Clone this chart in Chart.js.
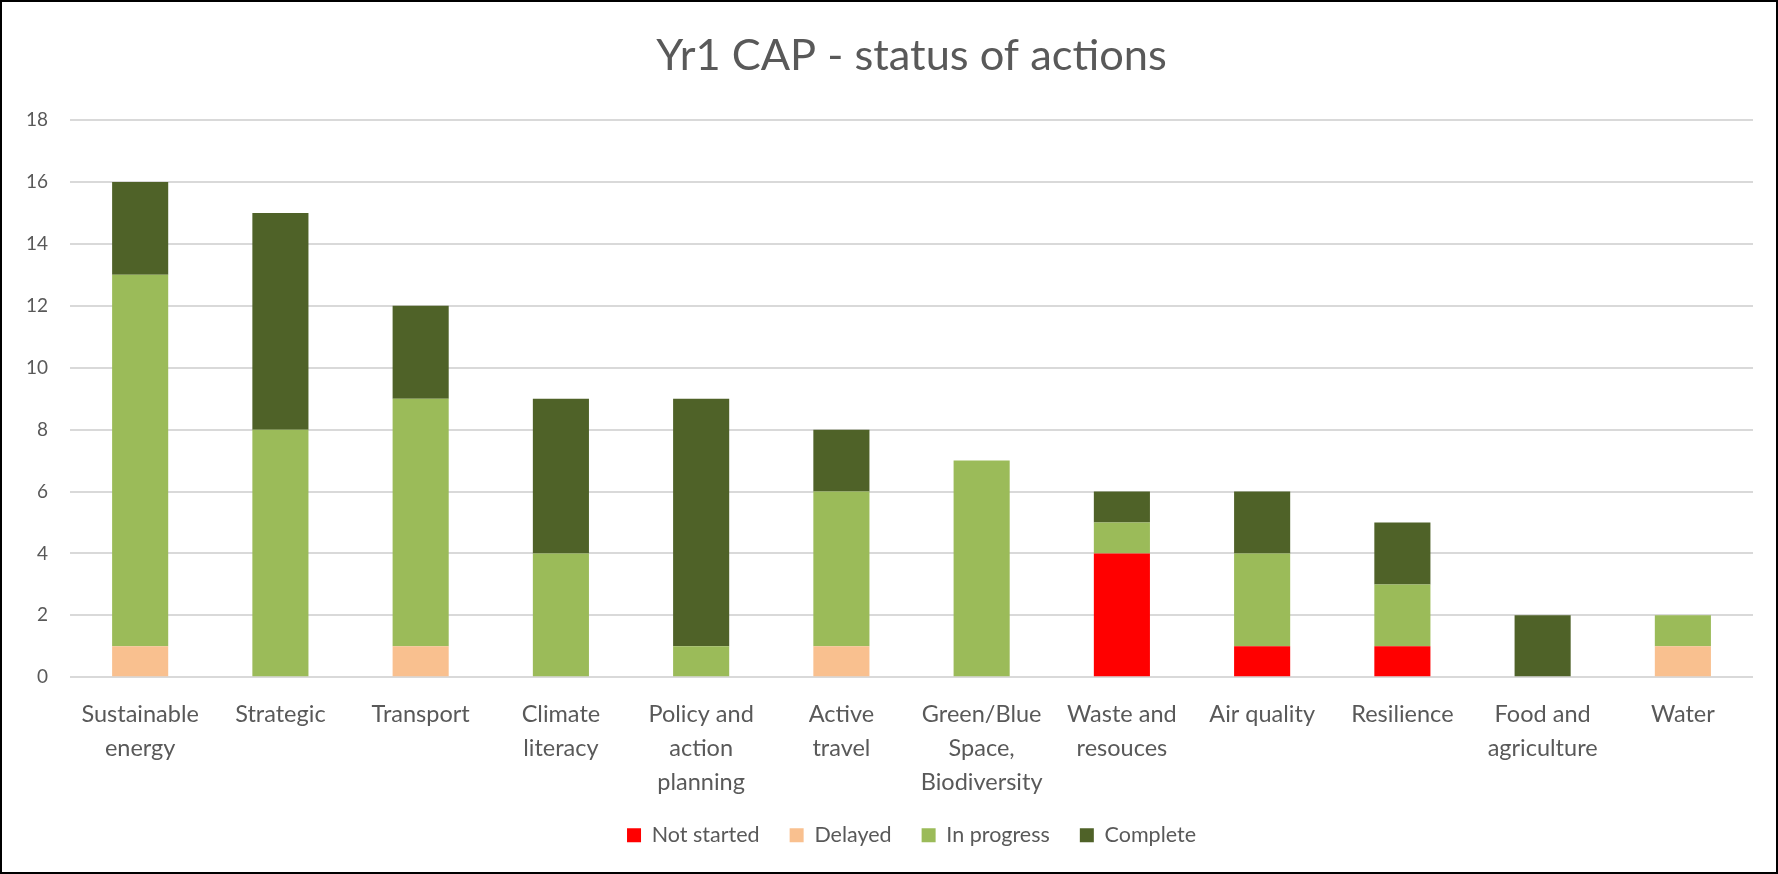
<!DOCTYPE html>
<html>
<head>
    <meta charset="UTF-8">
    <title>Yr1 CAP - status of actions</title>
    <script src="https://cdn.jsdelivr.net/npm/chart.js@4.4.0/dist/chart.umd.min.js"></script>
    <style>
        html, body { margin: 0; padding: 0; background: #fff; }
        #wrap { width: 1778px; height: 874px; box-sizing: border-box; border: 2px solid #000; position: relative; }
    </style>
</head>
<body>
    <div id="wrap"><canvas id="capChart"></canvas></div>

    <script>
        // categories (multi-line labels as in the original)
        const categories = [
            ['Sustainable', 'energy'], 'Strategic', 'Transport', ['Climate', 'literacy'],
            ['Policy and', 'action', 'planning'], ['Active', 'travel'],
            ['Green/Blue', 'Space,', 'Biodiversity'], ['Waste and', 'resouces'],
            'Air quality', 'Resilience', ['Food and', 'agriculture'], 'Water'
        ];
        const notStarted = [0, 0, 0, 0, 0, 0, 0, 4, 1, 1, 0, 0];
        const delayed    = [1, 0, 1, 0, 0, 1, 0, 0, 0, 0, 0, 1];
        const inProgress = [12, 8, 8, 4, 1, 5, 7, 1, 3, 2, 0, 1];
        const complete   = [3, 7, 3, 5, 8, 2, 0, 1, 2, 2, 2, 0];

        const textColor = '#595959';
        const fontFamily = 'Lato, "Open Sans", sans-serif';

        const ctx = document.getElementById('capChart').getContext('2d');
        new Chart(ctx, {
            type: 'bar',
            data: {
                labels: categories,
                datasets: [
                    { label: 'Not started', data: notStarted, backgroundColor: '#FF0000' },
                    { label: 'Delayed', data: delayed, backgroundColor: '#F9C08F' },
                    { label: 'In progress', data: inProgress, backgroundColor: '#9BBB59' },
                    { label: 'Complete', data: complete, backgroundColor: '#4F6228' }
                ]
            },
            options: {
                responsive: true,
                maintainAspectRatio: false,
                animation: false,
                datasets: { bar: { categoryPercentage: 1, barPercentage: 0.4 } },
                layout: { padding: { left: 2, right: 23, top: 10, bottom: 16 } },
                plugins: {
                    title: {
                        display: true,
                        fullSize: false,
                        text: 'Yr1 CAP - status of actions',
                        color: textColor,
                        font: { family: fontFamily, size: 43.4, weight: 'normal' },
                        padding: { top: 18, bottom: 38 }
                    },
                    legend: {
                        position: 'bottom',
                        fullSize: false,
                        labels: {
                            color: textColor,
                            font: { family: fontFamily, size: 21.5 },
                            boxWidth: 14, boxHeight: 14,
                            padding: 30
                        }
                    },
                    tooltip: { enabled: false }
                },
                scales: {
                    x: {
                        stacked: true,
                        grid: { display: false },
                        border: { display: false },
                        ticks: {
                            color: textColor,
                            font: { family: fontFamily, size: 23.5, lineHeight: 1.45 },
                            maxRotation: 0, autoSkip: false, padding: 12
                        },
                        // labels may run into the empty band above the legend, as in the original
                        afterFit: (scale) => { scale.height -= 17; }
                    },
                    y: {
                        stacked: true,
                        min: 0, max: 18,
                        ticks: {
                            stepSize: 2, color: textColor,
                            font: { family: fontFamily, size: 19 },
                            padding: 22
                        },
                        grid: { color: '#D9D9D9', lineWidth: 2, drawTicks: false },
                        border: { display: false }
                    }
                }
            }
        });
    </script>
</body>
</html>
